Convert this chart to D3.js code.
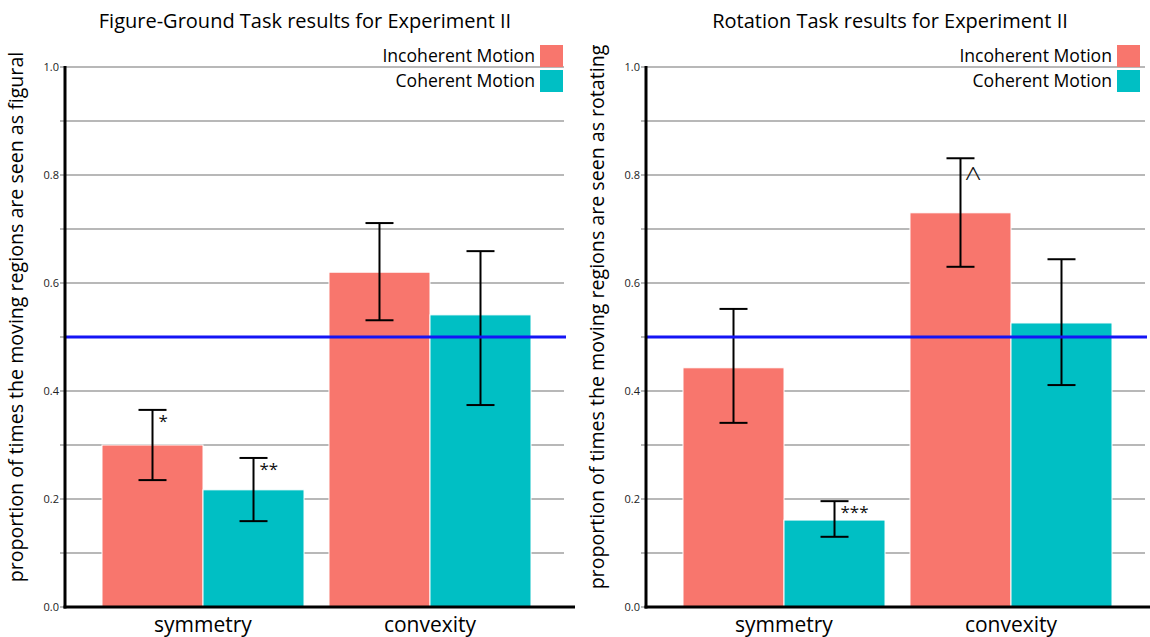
<!DOCTYPE html>
<html><head><meta charset="utf-8">
<script src="https://cdn.jsdelivr.net/npm/d3@7"></script>
<style>body{margin:0;background:#fff}svg{display:block}text{font-family:"Open Sans","Noto Sans",sans-serif}</style>
</head><body><svg id="c" width="1150" height="637"></svg>
<script>
const categories = ["symmetry", "convexity"];
const seriesNames = ["Incoherent Motion", "Coherent Motion"];
const colors = ["#F8766D", "#00BFC4"];
const yTicks = [0, 0.1, 0.2, 0.3, 0.4, 0.5, 0.6, 0.7, 0.8, 0.9, 1.0];
const yLabels = [0, 0.2, 0.4, 0.6, 0.8, 1.0];

const fgTitle = "Figure-Ground Task results for Experiment II";
const fgYLabel = "proportion of times the moving regions are seen as figural";
const fgIncoherent = [0.300, 0.620];
const fgCoherent = [0.217, 0.541];
const fgIncoherentHi = [0.365, 0.711];
const fgIncoherentLo = [0.235, 0.531];
const fgCoherentHi = [0.276, 0.659];
const fgCoherentLo = [0.159, 0.374];
const fgMarks = [["*", ""], ["**", ""]];

const rtTitle = "Rotation Task results for Experiment II";
const rtYLabel = "proportion of times the moving regions are seen as rotating";
const rtIncoherent = [0.443, 0.730];
const rtCoherent = [0.161, 0.526];
const rtIncoherentHi = [0.552, 0.831];
const rtIncoherentLo = [0.341, 0.630];
const rtCoherentHi = [0.196, 0.644];
const rtCoherentLo = [0.130, 0.411];
const rtMarks = [["", "^"], ["***", ""]];

const chance = 0.5;

const svg = d3.select("#c");

function panel(ox, title, ylab, vals, his, los, marks, titleX, legRight) {
  const g = svg.append("g");
  const left = ox, gridRight = ox + 499, axisRight = ox + 510;
  const y = d3.scaleLinear().domain([0, 1]).range([607, 67]);
  const x0 = d3.scaleBand().domain(categories).range([left, left + 503]).paddingInner(0.11).paddingOuter(0.163);
  const x1 = d3.scaleBand().domain(seriesNames).range([0, x0.bandwidth()]);

  g.selectAll(".grid").data(yTicks).join("line")
    .attr("x1", left - 5).attr("x2", gridRight)
    .attr("y1", d => y(d)).attr("y2", d => y(d))
    .attr("stroke", "#a0a0a0").attr("stroke-width", 1.5);
  g.selectAll(".tl").data(yLabels).join("text")
    .attr("x", left - 6).attr("y", d => y(d)).attr("dy", "0.35em")
    .attr("text-anchor", "end").attr("font-size", 11).attr("fill", "#222")
    .text(d => d3.format(".1f")(d));

  categories.forEach((c, ci) => {
    seriesNames.forEach((s, si) => {
      const v = vals[si][ci];
      const bx = x0(c) + x1(s);
      g.append("rect").attr("x", bx).attr("y", y(v))
        .attr("width", x1.bandwidth()).attr("height", y(0) - y(v))
        .attr("fill", colors[si]).attr("stroke", "#fff").attr("stroke-width", 1);
      const cx = bx + x1.bandwidth() / 2;
      const hi = his[si][ci], lo = los[si][ci];
      const eg = g.append("g").attr("stroke", "#000").attr("stroke-width", 2);
      eg.append("line").attr("x1", cx).attr("x2", cx).attr("y1", y(hi)).attr("y2", y(lo));
      eg.append("line").attr("x1", cx - 14).attr("x2", cx + 14).attr("y1", y(hi)).attr("y2", y(hi));
      eg.append("line").attr("x1", cx - 14).attr("x2", cx + 14).attr("y1", y(lo)).attr("y2", y(lo));
      const m = marks[si][ci];
      if (m === "^") {
        g.append("text").attr("x", cx + 4).attr("y", y(hi) + 30)
          .attr("font-size", 30).attr("font-weight", 300).attr("fill", "#111").text(m);
      } else if (m) {
        g.append("text").attr("x", cx + 6).attr("y", y(hi) + 17)
          .attr("font-size", 17).attr("fill", "#111").text(m);
      }
    });
  });

  g.append("line").attr("x1", left).attr("x2", gridRight + 2)
    .attr("y1", y(chance)).attr("y2", y(chance))
    .attr("stroke", "#1515f5").attr("stroke-width", 3);

  g.append("line").attr("x1", left).attr("x2", left).attr("y1", y(1) - 1).attr("y2", y(0) + 1.5)
    .attr("stroke", "#000").attr("stroke-width", 3);
  g.append("line").attr("x1", left - 1.5).attr("x2", axisRight).attr("y1", y(0)).attr("y2", y(0))
    .attr("stroke", "#000").attr("stroke-width", 3);

  g.selectAll(".cl").data(categories).join("text")
    .attr("x", d => x0(d) + x0.bandwidth() / 2).attr("y", 632)
    .attr("text-anchor", "middle").attr("font-size", 21).attr("fill", "#000").text(d => d);

  g.append("text").attr("x", titleX).attr("y", 28).attr("text-anchor", "middle")
    .attr("font-size", 20).attr("fill", "#000").text(title);

  g.append("text").attr("transform", `translate(${left - 42},${y(0.537)}) rotate(-90)`)
    .attr("text-anchor", "middle").attr("font-size", 19.6).attr("fill", "#000").text(ylab);

  seriesNames.forEach((s, i) => {
    const ly = 45 + i * 25;
    g.append("rect").attr("x", legRight - 23).attr("y", ly).attr("width", 23).attr("height", 22)
      .attr("fill", colors[i]);
    g.append("text").attr("x", legRight - 28).attr("y", ly + 11).attr("dy", "0.35em")
      .attr("text-anchor", "end").attr("font-size", 17.6).attr("fill", "#000").text(s);
  });
}

panel(65, fgTitle, fgYLabel, [fgIncoherent, fgCoherent], [fgIncoherentHi, fgCoherentHi],
  [fgIncoherentLo, fgCoherentLo], fgMarks, 305, 563);
panel(646, rtTitle, rtYLabel, [rtIncoherent, rtCoherent], [rtIncoherentHi, rtCoherentHi],
  [rtIncoherentLo, rtCoherentLo], rtMarks, 890, 1140);
</script></body></html>
